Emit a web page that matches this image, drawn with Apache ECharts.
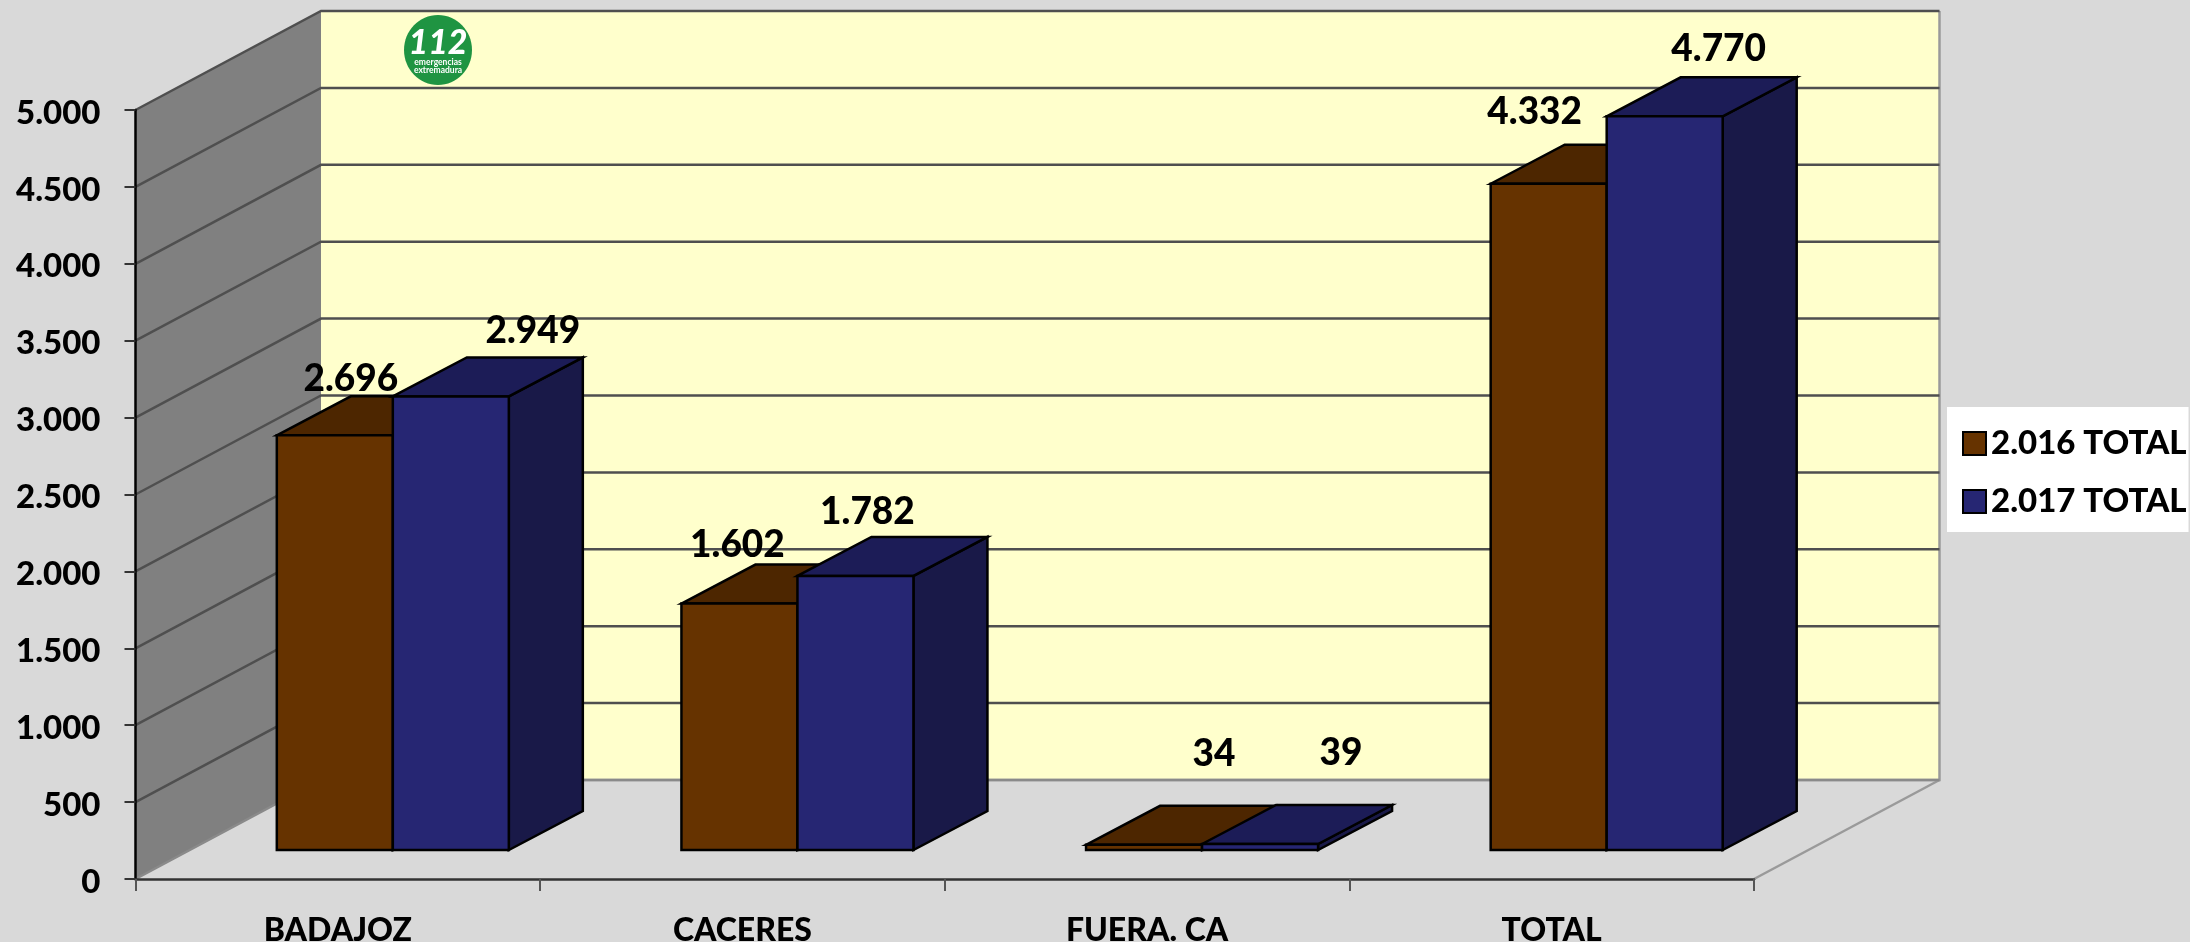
<!DOCTYPE html>
<html>
<head>
<meta charset="utf-8">
<style>
  html, body { margin: 0; padding: 0; background: #d9d9d9; }
  #chart { width: 2190px; height: 942px; }
</style>
<script src="https://cdn.jsdelivr.net/npm/echarts@6/dist/echarts.min.js"></script>
</head>
<body>
<div id="chart"></div>
<script>
const categories = ["BADAJOZ", "CACERES", "FUERA. CA", "TOTAL"];
const values2016 = [2696, 1602, 34, 4332];
const values2017 = [2949, 1782, 39, 4770];
const yTicks = [0, 500, 1000, 1500, 2000, 2500, 3000, 3500, 4000, 4500, 5000];

// hand placed labels, same as the original sheet
const labelShift2016 = [[16, -56], [-2, -59], [70, -91], [-14, -72]];
const labelShift2017 = [[82, -65], [12, -64], [81, -91], [54, -67]];

const FONT = "Lato";
const FONT_WEIGHT = 900;
const FONT_SIZE = 33;
const wallDepth = [185.5, -99]; // side wall offset in px
const barDepth = [74, -39];
const barOffset = [55, -29]; // bars stand a bit inside the floor
const barShare = 116 / 404.6;

const colors2016 = { front: "#663300", top: "#4d2600", side: "#4d2600" };
const colors2017 = { front: "#262673", top: "#1c1c57", side: "#191948" };

function fmt(v) {
  return String(v).replace(/\B(?=(\d{3})+$)/g, ".");
}

function poly(points, fill, stroke, lineWidth) {
  return {
    type: "polygon",
    shape: { points },
    style: { fill, stroke: stroke || null, lineWidth: lineWidth || 0, lineJoin: "miter" },
  };
}

function renderWalls(params) {
  const g = params.coordSys;
  const [dx, dy] = wallDepth;
  const left = g.x;
  const right = g.x + g.width;
  const top = g.y;
  const bottom = g.y + g.height;
  return {
    type: "group",
    children: [
      poly([[left + dx, top + dy], [right + dx, top + dy], [right + dx, bottom + dy], [left + dx, bottom + dy]], "#ffffcc"),
      poly([[left, top], [left + dx, top + dy], [left + dx, bottom + dy], [left, bottom]], "#808080"),
      {
        type: "polyline",
        shape: { points: [[left + dx, bottom + dy], [right + dx, bottom + dy], [right + dx, top + dy]] },
        style: { fill: null, stroke: "#9a9a9a", lineWidth: 2.5 },
      },
      {
        type: "line",
        shape: { x1: right, y1: bottom, x2: right + dx, y2: bottom + dy },
        style: { stroke: "#9a9a9a", lineWidth: 2.5 },
      },
    ],
  };
}

function renderWallLine(params, api) {
  const g = params.coordSys;
  const [dx, dy] = wallDepth;
  const value = api.value(0);
  const y = api.coord([0, value])[1];
  const left = g.x;
  const right = g.x + g.width;
  const color = value === 0 ? "#8a8a8a" : "#4f4f4f";
  return {
    type: "polyline",
    shape: { points: [[left, y], [left + dx, y + dy], [right + dx, y + dy]] },
    style: { fill: null, stroke: color, lineWidth: 2.5 },
  };
}

function makeBarRender(side, colors, shifts) {
  return function (params, api) {
    const cat = api.value(0);
    const value = api.value(1);
    const base = api.coord([cat, 0]);
    const topPt = api.coord([cat, value]);
    const w = api.size([1, 0])[0] * barShare;
    const x0 = base[0] + barOffset[0] + (side === 0 ? -w : 0);
    const x1 = x0 + w;
    const y0 = base[1] + barOffset[1];
    const y1 = topPt[1] + barOffset[1];
    const [dx, dy] = barDepth;
    return {
      type: "group",
      children: [
        poly([[x1, y1], [x1 + dx, y1 + dy], [x1 + dx, y0 + dy], [x1, y0]], colors.side, "#000", 2.5),
        poly([[x0, y1], [x0 + dx, y1 + dy], [x1 + dx, y1 + dy], [x1, y1]], colors.top, "#000", 2.5),
        poly([[x0, y1], [x1, y1], [x1, y0], [x0, y0]], colors.front, "#000", 2.5),
        {
          type: "text",
          z2: 10,
          style: {
            x: (x0 + x1) / 2 + shifts[params.dataIndex][0],
            y: y1 + shifts[params.dataIndex][1],
            text: fmt(value),
            fill: "#000",
            font: FONT_WEIGHT + " " + (FONT_SIZE + 4) + "px " + FONT,
            textAlign: "center",
            textVerticalAlign: "middle",
          },
        },
      ],
    };
  };
}

const chart = echarts.init(document.getElementById("chart"), null, { renderer: "canvas" });

chart.setOption({
  animation: false,
  backgroundColor: "#d9d9d9",
  grid: { left: 135.5, right: 436, top: 110, bottom: 63, outerBoundsMode: "none" },
  legend: {
    data: ["2.016 TOTAL", "2.017 TOTAL"],
    orient: "vertical",
    left: 1947,
    top: 407,
    backgroundColor: "#ffffff",
    padding: [20, 2, 14, 15],
    icon: "rect",
    itemWidth: 23,
    itemHeight: 23,
    itemGap: 25,
    selectedMode: false,
    itemStyle: { borderColor: "#000", borderWidth: 2 },
    textStyle: { color: "#000", fontFamily: FONT, fontWeight: FONT_WEIGHT, fontSize: FONT_SIZE, lineHeight: 23 },
  },
  xAxis: {
    type: "category",
    data: categories,
    z: 3,
    axisLine: { lineStyle: { color: "#333333", width: 2.5 } },
    axisTick: { show: true, length: 12, lineStyle: { color: "#555555", width: 2 } },
    axisLabel: { color: "#000", fontFamily: FONT, fontWeight: FONT_WEIGHT, fontSize: 32, margin: 36 },
  },
  yAxis: {
    type: "value",
    min: 0,
    max: 5000,
    interval: 500,
    z: 3,
    splitLine: { show: false },
    axisLine: { show: true, lineStyle: { color: "#000", width: 2.5 } },
    axisTick: { show: true, length: 11, lineStyle: { color: "#333333", width: 2 } },
    axisLabel: {
      color: "#000",
      fontFamily: FONT,
      fontWeight: FONT_WEIGHT,
      fontSize: FONT_SIZE,
      margin: 35,
      verticalAlign: "top",
      lineHeight: 6,
      formatter: fmt,
    },
  },
  graphic: [
    { type: "ellipse", z: 3, shape: { cx: 438, cy: 50, rx: 34, ry: 35 }, style: { fill: "#1f9442" } },
    {
      type: "text",
      z: 3,
      style: {
        x: 438, y: 26, text: "112", fill: "#fff",
        font: "italic 900 34px " + FONT,
        textAlign: "center", textVerticalAlign: "top",
      },
    },
    {
      type: "text",
      z: 3,
      style: {
        x: 438, y: 58, text: "emergencias", fill: "#fff",
        font: "700 8.5px " + FONT, textAlign: "center", textVerticalAlign: "top",
      },
    },
    {
      type: "text",
      z: 3,
      style: {
        x: 438, y: 66, text: "extremadura", fill: "#fff",
        font: "700 8.5px " + FONT, textAlign: "center", textVerticalAlign: "top",
      },
    },
  ],
  series: [
    {
      name: "walls",
      type: "custom",
      z: 1,
      silent: true,
      data: [[0, 0]],
      renderItem: renderWalls,
    },
    {
      name: "wall lines",
      type: "custom",
      z: 1.5,
      silent: true,
      encode: { x: null, y: 0 },
      data: yTicks.map((t) => [t]),
      renderItem: renderWallLine,
    },
    {
      name: "2.016 TOTAL",
      type: "custom",
      z: 4,
      itemStyle: { color: colors2016.front },
      data: values2016.map((v, i) => [i, v]),
      renderItem: makeBarRender(0, colors2016, labelShift2016),
    },
    {
      name: "2.017 TOTAL",
      type: "custom",
      z: 5,
      itemStyle: { color: colors2017.front },
      data: values2017.map((v, i) => [i, v]),
      renderItem: makeBarRender(1, colors2017, labelShift2017),
    },
  ],
});
</script>
</body>
</html>
